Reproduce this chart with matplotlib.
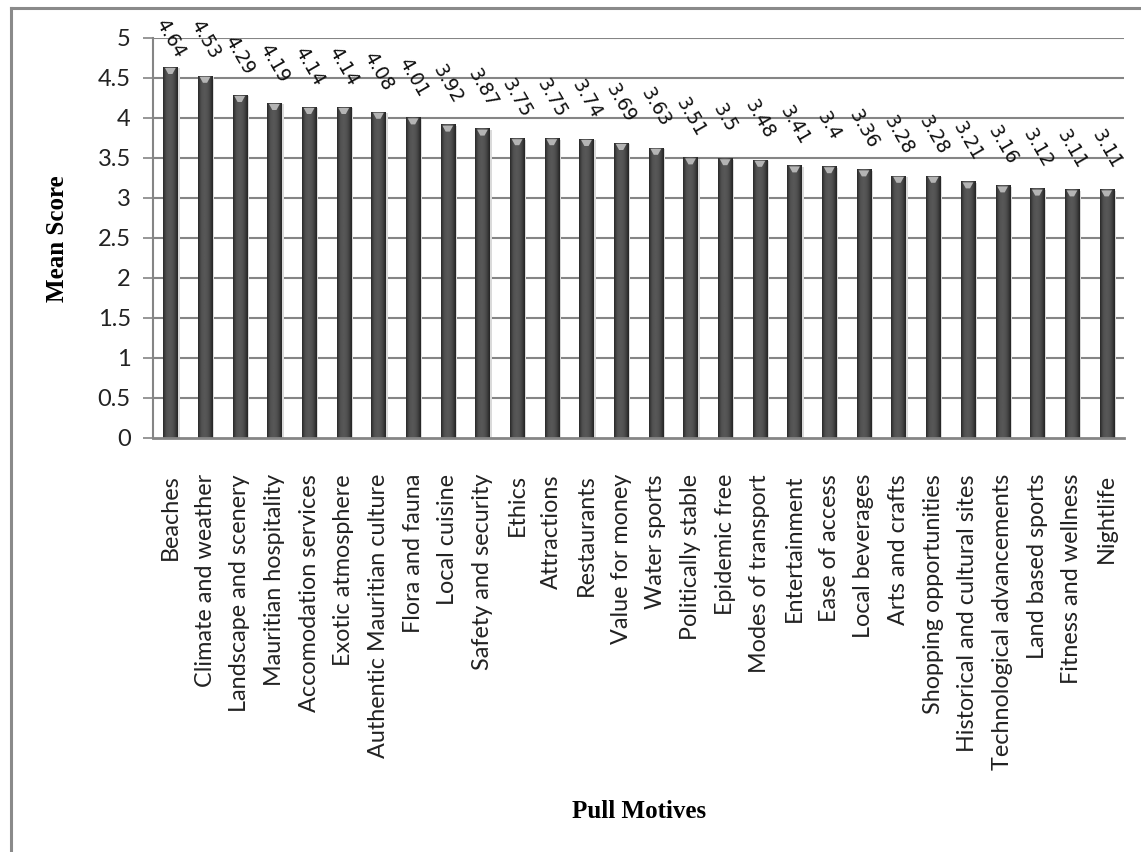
import numpy as np
import matplotlib
matplotlib.use("Agg")
import matplotlib.pyplot as plt
from matplotlib.lines import Line2D
from matplotlib.patches import Polygon

# Pull motives and their mean scores
motives = [
    "Beaches", "Climate and weather", "Landscape and scenery",
    "Mauritian hospitality", "Accomodation services", "Exotic atmosphere",
    "Authentic Mauritian culture", "Flora and fauna", "Local cuisine",
    "Safety and security", "Ethics", "Attractions", "Restaurants",
    "Value for money", "Water sports", "Politically stable", "Epidemic free",
    "Modes of transport", "Entertainment", "Ease of access", "Local beverages",
    "Arts and crafts", "Shopping opportunities", "Historical and cultural sites",
    "Technological advancements", "Land based sports", "Fitness and wellness",
    "Nightlife",
]
mean_scores = [
    4.64, 4.53, 4.29, 4.19, 4.14, 4.14, 4.08, 4.01, 3.92, 3.87, 3.75, 3.75,
    3.74, 3.69, 3.63, 3.51, 3.5, 3.48, 3.41, 3.4, 3.36, 3.28, 3.28, 3.21,
    3.16, 3.12, 3.11, 3.11,
]
score_labels = [f"{v:g}" for v in mean_scores]
y_ticks = [0, 0.5, 1, 1.5, 2, 2.5, 3, 3.5, 4, 4.5, 5]
y_tick_labels = ["0", "0.5", "1", "1.5", "2", "2.5", "3", "3.5", "4", "4.5", "5"]

W, H = 1141, 852
fig = plt.figure(figsize=(W / 100, H / 100), dpi=100)
fig.patch.set_facecolor("white")

ax = fig.add_axes([153 / W, 1 - 438 / H, (1124 - 153) / W, (438 - 38) / H])
ax.set_facecolor("white")

n = len(motives)
x = np.arange(n)
bar_w = 0.41

# gridlines
for t in y_ticks[1:]:
    ax.axhline(t, color="#858585", lw=1.5, zorder=0)

# horizontal shading across each bar to give a cylinder look
grad = np.array([0.18, 0.26, 0.31, 0.33, 0.34, 0.34, 0.33, 0.31, 0.27, 0.22, 0.16])
grad_img = np.tile(grad, (2, 1))

bars = ax.bar(x, mean_scores, width=bar_w, color="#4c4c4c", edgecolor="none", zorder=2)
for rect, v in zip(bars, mean_scores):
    x0 = rect.get_x()
    # soft shadow on the right side
    ax.add_patch(plt.Rectangle((x0 + bar_w, 0), 0.06, v - 0.02,
                               facecolor="#dadada", edgecolor="none", zorder=1.5))
    im = ax.imshow(grad_img, cmap="gray", vmin=0, vmax=1, aspect="auto",
                   extent=(x0, x0 + bar_w, 0, v), zorder=2.5, interpolation="bilinear")
    im.set_clip_path(rect)
    # light cap at the top of the bar
    cap = Polygon([(x0 + 0.05, v - 0.015), (x0 + bar_w - 0.05, v - 0.015),
                   (x0 + bar_w / 2 + 0.06, v - 0.09), (x0 + bar_w / 2 - 0.06, v - 0.09)],
                  closed=True, facecolor="#b4b4b4", edgecolor="none", zorder=3)
    ax.add_patch(cap)

ax.set_xlim(-0.5, n - 0.5)
ax.set_ylim(0, 5)

# value labels above bars, kept inside the top of the chart area
for xi, v, lab in zip(x, mean_scores, score_labels):
    ax.text(xi, min(v + 0.5, 4.99), lab,
            rotation=-60, rotation_mode="anchor", ha="center", va="center",
            fontsize=13.5, family="DejaVu Sans", color="#111111", zorder=4,
            clip_on=False)

# axes styling
for s in ["top", "right"]:
    ax.spines[s].set_visible(False)
ax.spines["left"].set_color("#858585")
ax.spines["left"].set_linewidth(1.5)
ax.spines["bottom"].set_color("#858585")
ax.spines["bottom"].set_linewidth(2)

ax.set_yticks(y_ticks)
ax.set_yticklabels(y_tick_labels, family="Lato", fontsize=17, color="#222222")
ax.tick_params(axis="y", direction="out", length=7, width=1.2, color="#858585", pad=9)
ax.set_xticks(x)
ax.set_xticklabels(motives, rotation=90, family="Lato", fontsize=16.8,
                   color="#222222", va="top", ha="center")
ax.tick_params(axis="x", length=0, pad=26)

fig.text(58 / W, 1 - 239 / H, "Mean Score", rotation=90, ha="center", va="center",
         family="Liberation Serif", fontweight="bold", fontsize=18)
fig.text(639 / W, 1 - 812 / H, "Pull Motives", ha="center", va="center",
         family="Liberation Serif", fontweight="bold", fontsize=18)

# outer frame (left and top edges)
fig.add_artist(Line2D([10.5 / W, 10.5 / W], [0, 1 - 8 / H], color="#8a8a8a", lw=2.2,
                      transform=fig.transFigure))
fig.add_artist(Line2D([10.5 / W, 1], [1 - 8 / H, 1 - 8 / H], color="#8a8a8a", lw=2.2,
                      transform=fig.transFigure))

fig.savefig("out.png", dpi=100, facecolor="white")
